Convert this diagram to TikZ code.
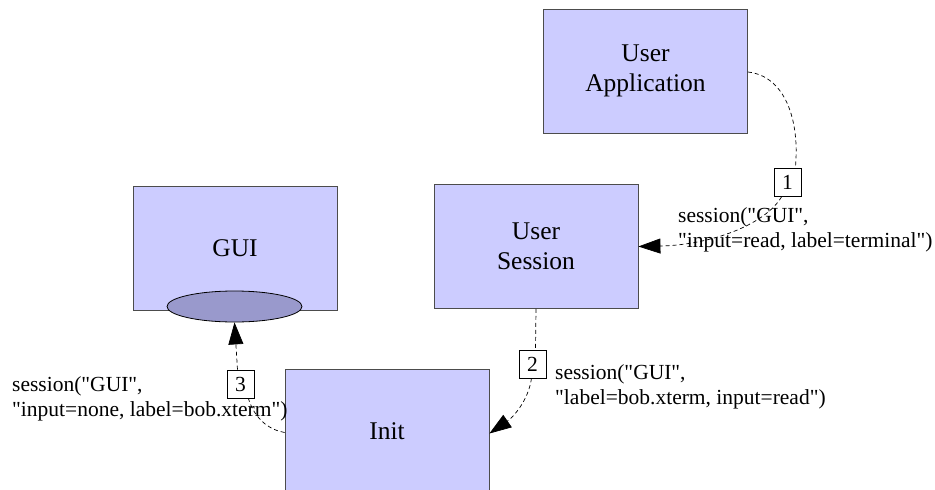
\documentclass[tikz,border=0pt]{standalone}
\usepackage{fontspec}
\newfontfamily\libserif{Liberation Serif}
\usetikzlibrary{arrows.meta,shapes.geometric}
\definecolor{boxblue}{HTML}{CCCCFF}
\definecolor{ellblue}{HTML}{9999CC}
\newcommand{\boxfont}{\libserif\fontsize{25.5}{30}\selectfont}
\newcommand{\lblfont}{\libserif\fontsize{21.5}{24.5}\selectfont}
\tikzset{
  compbox/.style={draw=black!70, line width=0.8pt, fill=boxblue, minimum width=204pt, minimum height=124pt, inner sep=0pt, align=center, font=\boxfont},
  numbox/.style={draw=black, line width=0.7pt, fill=white, minimum width=27pt, minimum height=28pt, inner sep=0pt, font=\lblfont},
  lbl/.style={inner sep=0pt, align=left, anchor=north west, font=\lblfont},
  conn/.style={line width=0.7pt, dash pattern=on 4pt off 3pt},
  tip/.style={-{Triangle[length=22pt,width=15pt]}}
}
\begin{document}
\begin{tikzpicture}[x=1pt,y=-1pt]
\useasboundingbox (0,0) rectangle (935,490);
\clip (0,0) rectangle (935,490);
% boxes
\node[compbox] (ua) at (645.5,71) {User\\Application};
\node[compbox] (us) at (536,246.5) {User\\Session};
\node[compbox] (gui) at (235,248.5) {GUI};
\node[compbox] (init) at (387,431.5) {Init};
\node[ellipse, draw=black, line width=0.8pt, fill=ellblue, minimum width=135pt, minimum height=31pt, inner sep=0pt] (port) at (234.5,306.5) {};
% number boxes
\node[numbox] (n1) at (787.5,182.5) {1};
\node[numbox] (n2) at (532.5,364) {2};
\node[numbox] (n3) at (240.5,384) {3};
% labels
\node[lbl] (l1) at (678,207.5) {session("GUI",\\"input=read, label=terminal")};
\node[lbl] (l2) at (555,364.5) {session("GUI",\\"label=bob.xterm, input=read")};
\node[lbl] (l3) at (12,376.5) {session("GUI",\\"input=none, label=bob.xterm")};
% connector 1
\draw[conn] (ua.east |- 0,72) .. controls (785,76) and (800,120) .. ([xshift=-6pt]n1.north east);
\draw[conn,tip] ([xshift=-6pt]n1.south) .. controls (765,225) and (710,245) .. (us.east);
% connector 2
\draw[conn] (us.south) -- ([xshift=3pt]n2.north);
\draw[conn,tip] ([xshift=-1pt]n2.south) .. controls (528,402) and (512,418) .. ([yshift=-2pt]init.east);
% connector 3
\draw[conn] ([yshift=-1pt]init.west) .. controls (270,430) and (255,420) .. ([xshift=-6pt]n3.south east);
\draw[conn,tip] ([xshift=-3pt]n3.north) -- (port.south);
\end{tikzpicture}
\end{document}
